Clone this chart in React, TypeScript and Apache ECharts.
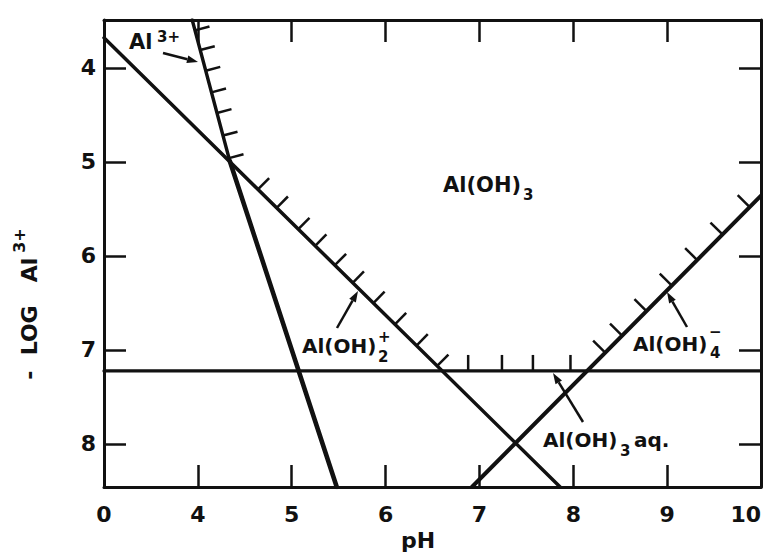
import React, { useEffect, useRef } from 'react';
import * as echarts from 'echarts';

const FONT = 'DejaVu Sans';
const INK = '#111111';

// x axis is broken: the first position (3) carries the label "0"
const xTickValues = [3, 4, 5, 6, 7, 8, 9, 10];
const xTickLabels = ['0', '4', '5', '6', '7', '8', '9', '10'];
const yTickValues = [4, 5, 6, 7, 8];

// boundary lines: [pH position, -log Al3+]
const al3UpperLine = [[3.94, 3.49], [4.34, 4.99]];
const al3LowerLine = [[4.34, 4.99], [5.48, 8.46]];
const alOH2Line = [[3.0, 3.68], [7.86, 8.46]];
const alOH4Line = [[6.92, 8.46], [10.0, 5.36]];
const alOH3aqLine = [[3.0, 7.225], [10.0, 7.225]];

// hatch marks on the Al(OH)3 side of the solubility boundary
const al3HatchY = [3.6, 3.81, 4.03, 4.26, 4.48, 4.72, 4.96];
const alOH2HatchX = [4.64, 4.84, 5.07, 5.25, 5.46, 5.65, 5.87, 6.1, 6.33, 6.55];
const alOH3aqHatchX = [6.88, 7.24, 7.57, 7.97];
const alOH4HatchX = [8.34, 8.52, 8.78, 9.05, 9.32, 9.59, 9.88];

const lineSeries = (data: number[][], width: number) => ({
  type: 'line',
  data,
  showSymbol: false,
  symbol: 'none',
  silent: true,
  z: 4,
  lineStyle: { color: INK, width, cap: 'round' },
});

const hatchSeries = (line: number[][], positions: number[], byY: boolean, len: number) => ({
  type: 'custom',
  coordinateSystem: 'cartesian2d',
  silent: true,
  z: 3,
  data: positions.map((p) => [p]),
  renderItem: (_params: any, api: any) => {
    const v = api.value(0);
    const a = api.coord(line[0]);
    const b = api.coord(line[1]);
    const k = byY ? 1 : 0;
    const t = (v - line[0][k]) / (line[1][k] - line[0][k]);
    const bx = a[0] + t * (b[0] - a[0]);
    const by = a[1] + t * (b[1] - a[1]);
    let dx = b[0] - a[0];
    let dy = b[1] - a[1];
    const n = Math.hypot(dx, dy);
    dx /= n;
    dy /= n;
    let nx = dy;
    let ny = -dx;
    if (ny > 0) {
      nx = -nx;
      ny = -ny;
    }
    return {
      type: 'line',
      shape: { x1: bx, y1: by, x2: bx + nx * len, y2: by + ny * len },
      style: { stroke: INK, lineWidth: 2.5 },
    };
  },
});

const txt = (text: string, x: number, y: number, size: number, align = 'left') => ({
  type: 'text',
  x,
  y,
  silent: true,
  z: 10,
  style: {
    text,
    fill: INK,
    fontFamily: FONT,
    fontWeight: 'bold',
    fontSize: size,
    align,
    verticalAlign: 'middle',
  },
});

const arrow = (x1: number, y1: number, x2: number, y2: number) => {
  const dx = x2 - x1;
  const dy = y2 - y1;
  const n = Math.hypot(dx, dy);
  const ux = dx / n;
  const uy = dy / n;
  const hl = 11;
  const hw = 3.8;
  const bx = x2 - ux * hl;
  const by = y2 - uy * hl;
  return [
    {
      type: 'line',
      silent: true,
      z: 10,
      shape: { x1, y1, x2: bx, y2: by },
      style: { stroke: INK, lineWidth: 2.5 },
    },
    {
      type: 'polygon',
      silent: true,
      z: 10,
      shape: {
        points: [
          [x2, y2],
          [bx - uy * hw, by + ux * hw],
          [bx + uy * hw, by - ux * hw],
        ],
      },
      style: { fill: INK },
    },
  ];
};

const axisLine = { show: true, onZero: false, lineStyle: { color: INK, width: 3 } };
const axisTick = { show: true, inside: true, length: 22, lineStyle: { color: INK, width: 2.5 } };
const labelStyle = { color: INK, fontFamily: FONT, fontWeight: 'bold', fontSize: 22 };

export default function App() {
  const ref = useRef<HTMLDivElement>(null);

  useEffect(() => {
    if (!ref.current) return;
    document.body.style.margin = '0';
    document.body.style.overflow = 'hidden';
    const chart = echarts.init(ref.current, null, { renderer: 'svg', width: 765, height: 552 });
    const option: any = {
      animation: false,
      backgroundColor: '#ffffff',
      grid: {
        left: 104,
        right: 4,
        top: 20,
        bottom: 65,
        containLabel: false,
        outerBoundsMode: 'none',
      },
      xAxis: [
        {
          type: 'value',
          min: 3,
          max: 10,
          interval: 1,
          position: 'bottom',
          axisLine,
          axisTick,
          splitLine: { show: false },
          axisLabel: {
            ...labelStyle,
            margin: 16,
            alignMaxLabel: 'right',
            formatter: (v: number) => {
              const i = xTickValues.indexOf(v);
              return i >= 0 ? xTickLabels[i] : '';
            },
          },
        },
        {
          type: 'value',
          min: 3,
          max: 10,
          interval: 1,
          position: 'top',
          axisLine,
          axisTick,
          splitLine: { show: false },
          axisLabel: { show: false },
        },
      ],
      yAxis: [
        {
          type: 'value',
          inverse: true,
          min: 3.49,
          max: 8.46,
          position: 'left',
          axisLine,
          axisTick: { ...axisTick, customValues: yTickValues },
          splitLine: { show: false },
          axisLabel: { ...labelStyle, margin: 8, customValues: yTickValues },
        },
        {
          type: 'value',
          inverse: true,
          min: 3.49,
          max: 8.46,
          position: 'right',
          axisLine,
          axisTick: { ...axisTick, customValues: yTickValues },
          splitLine: { show: false },
          axisLabel: { show: false },
        },
      ],
      series: [
        lineSeries(al3UpperLine, 3.4),
        lineSeries(al3LowerLine, 4.6),
        lineSeries(alOH2Line, 3.5),
        lineSeries(alOH4Line, 4),
        lineSeries(alOH3aqLine, 3.2),
        hatchSeries(al3UpperLine, al3HatchY, true, 15),
        hatchSeries(alOH2Line, alOH2HatchX, false, 16),
        hatchSeries(alOH3aqLine, alOH3aqHatchX, false, 16),
        hatchSeries(alOH4Line, alOH4HatchX, false, 17),
      ],
      graphic: [
        // y axis title
        {
          type: 'text',
          x: 29,
          y: 304,
          rotation: Math.PI / 2,
          silent: true,
          style: {
            text: '{m|-  LOG   Al}{s|3+}',
            align: 'center',
            verticalAlign: 'middle',
            fill: INK,
            rich: {
              m: { fontFamily: FONT, fontWeight: 'bold', fontSize: 22, lineHeight: 36, fill: INK },
              s: {
                fontFamily: FONT,
                fontWeight: 'bold',
                fontSize: 16,
                lineHeight: 16,
                verticalAlign: 'top',
                padding: [0, 0, 0, 5],
                fill: INK,
              },
            },
          },
        },
        // x axis title
        txt('pH', 418, 540, 22, 'center'),
        // Al3+
        txt('Al', 129, 42, 21),
        txt('3+', 157, 37, 15),
        ...arrow(163, 53, 198, 62),
        // Al(OH)3
        txt('Al(OH)', 443, 185, 21),
        txt('3', 523, 195, 15),
        // Al(OH)2+
        txt('Al(OH)', 302, 346, 20),
        txt('+', 378, 337, 15),
        txt('2', 378, 357, 15),
        ...arrow(337, 328, 358, 291),
        // Al(OH)4-
        txt('Al(OH)', 633, 344, 20),
        txt('−', 709, 332, 15),
        txt('4', 710, 353, 15),
        ...arrow(687, 327, 667, 292),
        // Al(OH)3 aq.
        txt('Al(OH)', 543, 440, 20),
        txt('3', 620, 451, 15),
        txt('aq.', 634, 440, 20),
        ...arrow(583, 422, 553, 373),
      ],
    };
    chart.setOption(option);
    return () => chart.dispose();
  }, []);

  return (
    <div
      ref={ref}
      style={{ position: 'fixed', left: 0, top: 0, width: 765, height: 552, background: '#fff' }}
    />
  );
}
